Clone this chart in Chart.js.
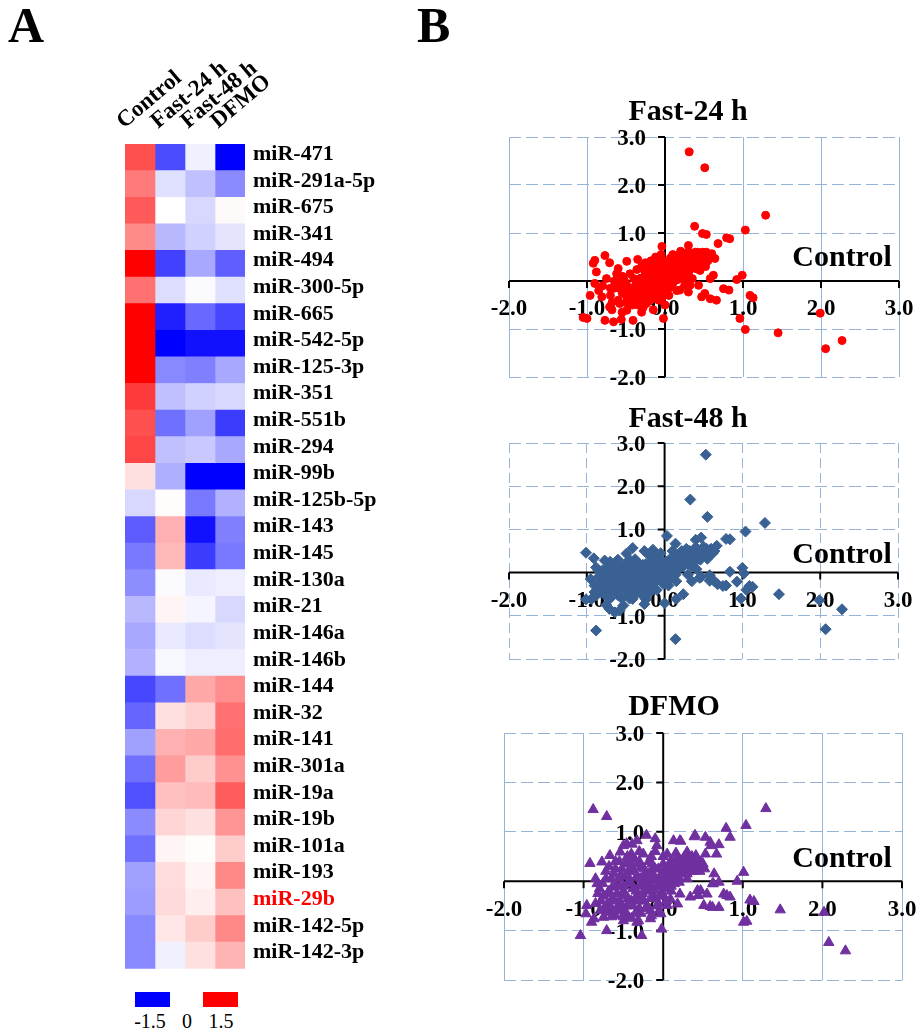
<!DOCTYPE html>
<html>
<head>
<meta charset="utf-8">
<script src="https://cdn.jsdelivr.net/npm/chart.js@4.4.0/dist/chart.umd.min.js"></script>
<style>
  html,body{margin:0;padding:0;background:#fff;}
  body{width:917px;height:1029px;position:relative;overflow:hidden;font-family:"Liberation Serif","Times New Roman",serif;}
  canvas{position:absolute;}
  .panel{position:absolute;font-weight:bold;font-size:50px;line-height:1;color:#000;}
  .cb{position:absolute;height:15px;width:35px;}
  .cbl{position:absolute;font-size:20px;line-height:1;transform:translateX(-50%);color:#000;}
</style>
</head>
<body>
<canvas id="heat" width="330" height="990" style="left:100px;top:0px"></canvas>
<canvas id="s1" width="437" height="300" style="left:480px;top:90px"></canvas>
<canvas id="s2" width="437" height="270" style="left:480px;top:400px"></canvas>
<canvas id="s3" width="437" height="310" style="left:480px;top:690px"></canvas>
<div class="panel" style="left:8px;top:0px">A</div>
<div class="panel" style="left:417px;top:0px">B</div>
<div class="cb" style="left:135px;top:992px;background:#0000ff"></div>
<div class="cb" style="left:203px;top:992px;background:#ff0000"></div>
<div class="cbl" style="left:150px;top:1011px">-1.5</div>
<div class="cbl" style="left:187px;top:1011px">0</div>
<div class="cbl" style="left:221px;top:1011px">1.5</div>
<script>
// ---------- Heatmap data ----------
const conditions = ['Control', 'Fast-24 h', 'Fast-48 h', 'DFMO'];
const mirnas = ['miR-471','miR-291a-5p','miR-675','miR-341','miR-494','miR-300-5p','miR-665','miR-542-5p','miR-125-3p','miR-351','miR-551b','miR-294','miR-99b','miR-125b-5p','miR-143','miR-145','miR-130a','miR-21','miR-146a','miR-146b','miR-144','miR-32','miR-141','miR-301a','miR-19a','miR-19b','miR-101a','miR-193','miR-29b','miR-142-5p','miR-142-3p'];
const highlighted = ['miR-29b'];
const controlVals = [1.03,0.78,0.97,0.69,1.5,0.84,1.5,1.5,1.5,1.16,1.03,1.09,0.18,-0.23,-0.96,-0.79,-0.67,-0.42,-0.51,-0.46,-1.08,-0.9,-0.56,-0.84,-1.03,-0.68,-0.84,-0.56,-0.58,-0.7,-0.7];
const fast24Vals  = [-1.05,-0.18,0.0,-0.42,-1.12,-0.2,-1.32,-1.5,-0.7,-0.37,-0.84,-0.37,-0.47,0.02,0.46,0.42,-0.03,0.06,-0.13,-0.04,-0.84,0.18,0.46,0.58,0.37,0.25,0.06,0.2,0.22,0.14,-0.09];
const fast48Vals  = [-0.09,-0.37,-0.23,-0.27,-0.51,-0.03,-0.88,-1.4,-0.75,-0.27,-0.56,-0.32,-1.5,-0.79,-1.4,-1.15,-0.13,-0.06,-0.2,-0.1,0.51,0.27,0.51,0.3,0.4,0.18,0.02,0.06,0.1,0.3,0.18];
const dfmoVals    = [-1.5,-0.68,0.03,-0.16,-0.94,-0.18,-1.08,-1.4,-0.51,-0.23,-1.15,-0.51,-1.5,-0.46,-0.75,-0.79,-0.1,-0.23,-0.16,-0.1,0.67,0.84,0.86,0.65,0.96,0.63,0.3,0.7,0.37,0.7,0.44];
const colorRange = [-1.5, 1.5];

// ---------- Scatter data ([Control, condition] pairs) ----------
const axisTickValues = [-2, -1, 0, 1, 2, 3];
const fast24Points = [
 [0.31,2.69],[0.51,2.36],[1.29,1.37],[1.03,1.06],[0.38,1.14],[0.48,0.99],[0.53,0.97],[0.79,0.9],[0.83,0.88],[0.68,0.78],[-0.04,0.72],[0.3,0.74],[0.53,0.6],[0.6,0.57],[0.64,0.47],
 [-0.77,0.53],[-0.9,0.43],[-0.92,0.37],[-0.71,0.38],[-0.49,0.41],[-0.88,0.19],[-0.6,0.26],[-0.36,0.24],
 [-0.96,-0.3],[-1.05,-0.76],[-1.0,-0.78],[-0.77,-0.82],[-0.66,-0.85],[-0.56,-0.8],[-0.41,-0.82],[-0.02,-0.78],[-0.3,-0.65],[-0.71,-0.54],[-0.81,-0.33],[-0.58,-0.47],[-0.49,-0.61],[-0.24,-0.47],[-0.11,-0.33],
 [0.06,-0.13],[0.28,0.01],[0.32,-0.09],[0.43,-0.09],[0.19,-0.19],[0.3,-0.23],[0.51,-0.26],[0.58,-0.37],[0.47,-0.33],[0.66,-0.4],[0.75,-0.16],[0.82,-0.19],[0.92,0.03],[0.99,0.12],[1.09,-0.3],[1.13,-0.35],[0.96,-0.78],[1.03,-1.01],[1.45,-1.08],[1.99,-0.67],[2.27,-1.24],[2.06,-1.41],[0.62,0.12],[0.58,0.05],[0.45,0.22],
 [-0.5,-0.3],[-0.45,-0.2],[-0.4,-0.35],[-0.38,-0.1],[-0.35,-0.25],[-0.32,0.05],[-0.3,-0.15],[-0.28,-0.35],[-0.25,0.1],[-0.25,-0.05],[-0.22,-0.2],[-0.2,0.2],[-0.2,0.0],[-0.18,-0.12],[-0.16,0.08],[-0.15,-0.28],[-0.14,0.3],[-0.12,-0.05],[-0.1,0.15],[-0.1,-0.18],[-0.08,0.05],[-0.07,0.35],[-0.06,-0.1],[-0.05,0.22],[-0.04,-0.25],[-0.02,0.1],[0.0,0.0],[0.0,0.3],[0.02,-0.08],[0.03,0.18],[0.05,0.42],[0.06,0.05],[0.08,0.25],[0.1,-0.05],[0.1,0.12],[0.12,0.35],[0.14,0.2],[0.15,0.02],[0.17,0.45],[0.18,0.28],[0.2,0.12],[0.22,0.38],[0.24,0.22],[0.26,0.5],[0.28,0.3],[0.3,0.15],[0.32,0.42],[0.34,0.58],[0.36,0.3],[0.38,0.48],[0.4,0.35],[0.42,0.6],[0.44,0.45],[0.47,0.38],[0.5,0.52],[0.52,0.3],[0.55,0.42],
 [-0.6,-0.4],[-0.65,-0.15],[-0.7,-0.3],[-0.75,0.05],[-0.8,-0.1],[-0.55,0.1],[-0.5,-0.05],[-0.45,0.15],[-0.42,-0.5],[-0.35,-0.5],[-0.3,0.3],[-0.28,-0.55],[-0.2,-0.42],[-0.18,0.42],[-0.12,0.5],[-0.08,-0.4],[-0.05,0.55],[0.05,-0.3],[0.1,0.55],[0.0,-0.5],[-0.62,0.15],[-0.85,-0.2],[-0.9,-0.05],[-0.68,-0.6],[-0.55,-0.65],[-0.15,-0.6],[-0.35,0.45],[0.15,-0.2],[0.25,-0.1],[0.2,0.62],[0.35,0.05],[-0.25,0.38],[-0.4,0.05],[-0.6,-0.05],
 [-0.15,0.0],[-0.05,0.02],[0.05,0.12],[-0.1,-0.05],[0.0,0.1],[-0.2,-0.08],[0.12,0.08],[-0.08,0.12],[0.08,-0.02],[-0.03,-0.15],
 [-0.45,-0.45],[-0.4,-0.25],[-0.38,-0.42],[-0.36,-0.05],[-0.34,-0.3],[-0.32,-0.18],[-0.3,-0.42],[-0.28,0.0],[-0.27,-0.28],[-0.26,0.2],[-0.24,-0.12],[-0.23,-0.36],[-0.22,0.08],[-0.2,-0.25],[-0.19,0.3],[-0.18,-0.02],[-0.17,-0.38],[-0.16,0.18],[-0.15,-0.15],[-0.14,0.4],[-0.13,0.05],[-0.12,-0.28],[-0.11,0.25],[-0.1,-0.1],[-0.09,0.45],[-0.08,-0.22],[-0.07,0.18],[-0.06,0.0],[-0.05,0.32],[-0.04,-0.35],[-0.03,0.12],[-0.02,0.42],[-0.01,-0.12],[0.0,0.22],[0.01,0.05],[0.02,0.35],[0.03,-0.2],[0.04,0.15],[0.05,0.28],[0.06,-0.02],[0.07,0.48],[0.08,0.1],[0.09,0.35],[0.1,0.2],[0.11,0.42],[0.12,0.05],[0.13,0.28],[0.14,0.52],[0.15,0.12],[0.16,0.36],[0.18,0.2],[0.19,0.5],[0.2,0.3],[0.21,0.05],[0.22,0.45],[0.24,0.32],[0.25,0.58],[0.26,0.16],[0.28,0.45],[0.3,0.35],[0.31,0.58],[0.33,0.25],[0.35,0.45],[0.37,0.38],[0.39,0.6],[0.41,0.25],[0.43,0.52],[0.46,0.45],[0.48,0.6],[0.5,0.4],[-0.5,-0.45],[-0.48,-0.12],[-0.43,-0.3],[-0.55,-0.25],[-0.52,0.0],[-0.58,-0.15],[-0.65,0.0],[-0.7,-0.15],[-0.68,-0.45]
];
const fast48Points = [
 [0.53,2.73],[0.33,1.69],[0.55,1.29],[1.29,1.15],[1.04,0.95],[0.79,0.78],[0.84,0.77],[0.67,0.62],[0.47,0.81],[0.03,0.85],[0.14,0.67],[0.4,0.76],
 [-1.01,0.46],[-0.91,0.33],[-0.77,0.28],[-0.49,0.44],[-0.41,0.57],[-0.26,0.5],[-0.15,0.53],[-0.11,0.38],[-0.38,0.31],[-0.49,0.23],
 [1.0,0.11],[1.02,-0.02],[0.84,0.02],[0.93,-0.21],[1.09,-0.31],[1.13,-0.33],[1.05,-0.4],[0.64,-0.2],[0.68,-0.27],[0.75,-0.31],[0.79,-0.3],[0.58,-0.06],[0.47,-0.1],[0.41,0.08],[0.58,-0.19],[0.45,-0.12],
 [0.98,-0.6],[1.47,-0.5],[1.99,-0.64],[2.28,-0.85],[2.07,-1.31],[0.14,-1.54],[-0.88,-1.34],
 [0.24,-0.5],[0.15,-0.61],[-0.88,-0.53],[-0.94,-0.61],[-0.75,-0.75],[-0.71,-0.84],[-0.64,-0.92],[-0.53,-0.76],[-0.41,-0.61],[-0.26,-0.73],[-0.32,-0.34],[-0.19,-0.46],[-1.01,-0.62],[0.0,-0.71],[-0.24,-0.62],[-0.58,-0.88],
 [-0.85,-0.1],[-0.8,0.05],[-0.78,-0.25],[-0.75,-0.05],[-0.72,0.15],[-0.7,-0.35],[-0.68,-0.15],[-0.65,0.02],[-0.62,-0.45],[-0.6,-0.25],[-0.58,0.12],[-0.55,-0.08],[-0.52,-0.35],[-0.5,0.05],[-0.48,-0.2],[-0.45,-0.5],[-0.45,0.15],[-0.42,-0.05],[-0.4,-0.3],[-0.38,0.08],[-0.35,-0.15],[-0.33,-0.42],[-0.3,0.0],[-0.28,0.18],[-0.27,-0.25],[-0.25,-0.08],[-0.22,0.1],[-0.2,-0.35],[-0.18,-0.15],[-0.16,0.25],[-0.14,0.02],[-0.12,-0.22],[-0.1,0.12],[-0.08,-0.08],[-0.05,0.3],[-0.04,0.05],[-0.02,-0.15],[0.0,0.18],[0.02,-0.05],[0.04,0.08],[0.06,0.3],[0.08,-0.12],[0.1,0.15],[0.12,0.02],[0.14,0.35],[0.16,0.22],[0.18,0.08],[0.2,0.4],[0.22,0.28],[0.24,0.14],[0.26,0.45],[0.28,0.32],[0.3,0.2],[0.32,0.5],[0.34,0.38],[0.36,0.26],[0.38,0.55],[0.4,0.42],[0.42,0.3],[0.45,0.5],[0.48,0.38],[0.5,0.6],[0.52,0.45],[0.55,0.32],[0.58,0.52],[0.62,0.45],
 [-0.9,-0.3],[-0.95,-0.15],[-0.88,0.12],[-0.6,0.3],[-0.35,0.25],[-0.55,-0.6],[-0.4,-0.55],[-0.25,-0.5],[-0.1,-0.4],[0.05,-0.3],[0.15,-0.2],[0.3,-0.05],[0.35,-0.2],[-0.7,-0.6],[-0.82,-0.45],[-0.2,0.4],[-0.05,0.45],[0.1,0.5],[-0.15,-0.05],[-0.3,-0.1],[-0.5,-0.15],[-0.65,-0.3],[-0.45,0.3],[0.0,-0.05],[-0.2,0.02],[-0.1,-0.1],
 [-0.82,-0.2],[-0.8,-0.35],[-0.78,0.0],[-0.76,-0.45],[-0.74,-0.15],[-0.72,-0.28],[-0.7,0.05],[-0.68,-0.4],[-0.66,-0.22],[-0.64,0.12],[-0.62,-0.08],[-0.6,-0.38],[-0.58,-0.18],[-0.56,0.02],[-0.54,-0.28],[-0.52,0.15],[-0.5,-0.42],[-0.48,-0.1],[-0.46,0.05],[-0.44,-0.3],[-0.42,-0.18],[-0.4,0.12],[-0.38,-0.4],[-0.36,-0.05],[-0.34,0.15],[-0.32,-0.22],[-0.3,-0.35],[-0.28,0.05],[-0.26,-0.15],[-0.24,0.2],[-0.22,-0.28],[-0.2,-0.05],[-0.18,0.12],[-0.16,-0.25],[-0.14,0.3],[-0.12,0.08],[-0.1,-0.18],[-0.08,0.2],[-0.06,-0.02],[-0.04,0.15],[-0.02,-0.25],[0.0,0.08],[0.02,0.25],[0.04,-0.1],[0.06,0.15],[0.08,0.02],[0.1,0.3],[0.12,0.18],[0.14,-0.05],[0.16,0.4],[0.18,0.28],[0.2,0.15],[0.22,0.5],[0.24,0.35],[0.26,0.22],[0.28,0.55],[0.3,0.4],[0.32,0.28],[0.34,0.15],[0.36,0.48],[0.4,0.35],[0.42,0.55],[0.44,0.42],[0.46,0.3],[0.5,0.5],[0.54,0.55],[0.56,0.42],[0.6,0.55],[0.64,0.5],[-0.6,0.18],[-0.7,0.25],[-0.85,0.05],[-0.9,-0.45],[-0.75,-0.55],[-0.6,-0.52],[-0.45,-0.6],[-0.3,-0.5],[-0.15,-0.35],[0.0,-0.25],[0.1,-0.1]
];
const dfmoPoints = [
 [-0.88,1.45],[-0.71,1.31],[1.29,1.47],[1.04,1.13],[0.79,1.07],[0.84,0.89],[0.7,0.74],[0.59,0.79],[0.53,0.89],[0.4,0.93],[0.21,0.82],[0.13,0.82],[-0.1,0.86],[-0.21,0.93],[0.67,0.55],[-0.92,0.36],[-0.77,0.39],[-0.67,0.52],[-0.46,0.76],[-0.5,0.72],[-0.85,0.05],[1.01,0.18],[0.93,0.0],[1.09,-0.38],[1.14,-0.41],[0.8,-0.29],[0.84,-0.32],[0.76,-0.26],[0.7,-0.53],[0.59,-0.51],[0.51,-0.49],[0.47,-0.19],[0.44,-0.29],[0.34,-0.32],[0.21,-0.26],[0.63,-0.05],[1.47,-0.58],[2.02,-0.63],[1.01,-0.83],[1.05,-0.81],[2.08,-1.24],[2.29,-1.41],[-1.04,-1.1],[-0.9,-0.83],[-0.97,-0.66],[-0.71,-1.0],[-0.27,-1.1],[-0.33,-0.83],[-0.02,-0.97],[-0.5,-0.8],[-0.79,-0.59],
 [-0.54,0.59],[-0.39,0.75],[-0.33,0.82],[-0.08,0.72],[0.22,0.81],[0.39,0.9],[0.6,0.72],[0.16,0.57],[0.3,0.59],[0.41,0.52],[0.53,0.55],[0.64,0.15],[0.62,-0.05],[0.7,-0.02],[-0.83,-0.05],[0.43,-0.19],[0.55,-0.26],[0.62,-0.53],[-0.96,-0.49],[-0.87,-0.76],[-0.75,-0.73],[-0.66,-0.63],[-0.54,-0.53],[-0.49,-0.66],[-0.31,-0.8],[-0.03,-0.66],[-0.16,-0.76],[0.09,-0.36],[0.05,-0.49],[0.18,-0.46],
 [-0.7,-0.45],[-0.68,-0.2],[-0.65,0.05],[-0.62,-0.35],[-0.6,0.25],[-0.58,-0.55],[-0.55,-0.1],[-0.53,0.12],[-0.5,-0.3],[-0.48,0.35],[-0.46,-0.5],[-0.44,-0.02],[-0.42,0.2],[-0.4,-0.4],[-0.38,-0.15],[-0.36,0.45],[-0.34,0.08],[-0.32,-0.28],[-0.3,-0.55],[-0.28,0.28],[-0.26,-0.05],[-0.24,-0.4],[-0.22,0.15],[-0.2,-0.2],[-0.18,0.4],[-0.16,-0.6],[-0.14,0.02],[-0.12,-0.3],[-0.1,0.25],[-0.08,-0.12],[-0.06,-0.45],[-0.04,0.1],[-0.02,-0.22],[0.0,0.35],[0.02,0.0],[0.04,-0.15],[0.06,0.2],[0.08,0.05],[0.1,0.42],[0.12,0.15],[0.14,-0.05],[0.16,0.3],[0.18,0.1],[0.2,0.45],[0.22,0.25],[0.25,0.35],[0.28,0.15],[0.3,0.5],[0.33,0.3],[0.36,0.4],[0.38,0.2],[0.42,0.45],[0.45,0.3],[0.48,0.38],[0.52,0.25],
 [-0.75,-0.3],[-0.8,-0.15],[-0.72,0.2],[-0.6,-0.7],[-0.45,-0.7],[-0.35,-0.65],[-0.2,-0.5],[-0.55,0.4],[-0.4,0.55],[-0.25,0.55],[-0.1,0.6],[0.05,0.55],[-0.15,-0.08],[-0.3,-0.1],[-0.05,-0.05],[-0.2,0.05],[-0.35,-0.35],[-0.1,-0.35],[0.0,-0.3],[-0.45,0.1],[-0.6,-0.1],[-0.5,-0.2],[-0.25,0.1],[0.1,-0.1],[0.2,-0.02],[0.3,0.05],[-0.65,-0.55],[-0.4,0.3],[-0.15,0.2],[0.0,0.15],[-0.3,0.4],[-0.55,-0.4],[-0.7,-0.6],
 [-0.78,-0.4],[-0.76,-0.05],[-0.74,-0.55],[-0.72,0.05],[-0.7,-0.25],[-0.68,0.3],[-0.66,-0.4],[-0.64,-0.12],[-0.62,0.15],[-0.6,-0.6],[-0.58,-0.25],[-0.56,0.05],[-0.54,-0.45],[-0.52,0.25],[-0.5,-0.1],[-0.48,-0.6],[-0.46,0.15],[-0.44,-0.35],[-0.42,0.4],[-0.4,-0.05],[-0.38,-0.5],[-0.36,0.2],[-0.34,-0.2],[-0.32,0.35],[-0.3,-0.4],[-0.28,0.05],[-0.26,-0.25],[-0.24,0.25],[-0.22,-0.55],[-0.2,-0.1],[-0.18,0.15],[-0.16,-0.35],[-0.14,0.35],[-0.12,-0.18],[-0.1,0.05],[-0.08,-0.5],[-0.06,0.25],[-0.04,-0.3],[-0.02,0.05],[0.0,-0.1],[0.02,0.25],[0.04,-0.4],[0.06,0.1],[0.08,0.35],[0.1,-0.2],[0.12,0.3],[0.14,0.1],[0.16,0.45],[0.18,0.2],[0.2,0.05],[0.22,0.38],[0.24,0.2],[0.26,0.48],[0.28,0.28],[0.3,0.15],[0.32,0.4],[0.34,0.2],[0.36,0.5],[0.4,0.3],[0.44,0.4],[0.46,0.2],[0.5,0.35],[-0.65,-0.72],[-0.5,-0.72],[-0.4,-0.75],[-0.28,-0.65],[-0.15,-0.7],[-0.82,-0.25],[-0.85,-0.45],[-0.6,0.4],[-0.45,0.5],[-0.3,0.6],[-0.15,0.5],[0.0,0.5],[-0.05,-0.6]
];

const SERIF = '"Liberation Serif", "Times New Roman", serif';
Chart.defaults.font.family = SERIF;

// ---------- Heatmap ----------
function cellColor(v) {
  const t = Math.min(1, Math.abs(v) / colorRange[1]);
  const c = Math.round(255 * (1 - t));
  return v < 0 ? `rgb(${c},${c},255)` : `rgb(255,${c},${c})`;
}
const headerPlugin = {
  id: 'heatHeaders',
  afterDraw(chart) {
    const {ctx, scales: {x}, chartArea} = chart;
    ctx.save();
    ctx.font = 'bold 23px ' + SERIF;
    ctx.fillStyle = '#000';
    ctx.textAlign = 'left';
    ctx.textBaseline = 'alphabetic';
    conditions.forEach((name, i) => {
      const px = x.getPixelForValue(i + 0.5);
      ctx.save();
      ctx.translate(px - (i === 0 ? 16 : 12), chartArea.top - 15);
      ctx.rotate(-40 * Math.PI / 180);
      ctx.fillText(name, 0, 0);
      ctx.restore();
    });
    ctx.restore();
  }
};
const heatSeries = [controlVals, fast24Vals, fast48Vals, dfmoVals];
new Chart(document.getElementById('heat'), {
  type: 'bar',
  data: {
    labels: mirnas,
    datasets: heatSeries.map((vals, i) => ({
      label: conditions[i],
      data: vals.map(() => 1),
      backgroundColor: vals.map(cellColor),
      borderWidth: 0,
      barPercentage: 1,
      categoryPercentage: 1
    }))
  },
  options: {
    indexAxis: 'y',
    responsive: false, animation: false, devicePixelRatio: 1,
    layout: {padding: {left: 25, right: 5, top: 144, bottom: 8}},
    plugins: {legend: {display: false}, tooltip: {enabled: false}},
    scales: {
      x: {stacked: true, display: false, min: 0, max: 4},
      y: {
        stacked: true, position: 'right',
        grid: {display: false, drawTicks: false}, border: {display: false},
        afterFit(scale) { scale.width = 180; },
        ticks: {
          autoSkip: false, padding: 8, labelOffset: -3,
          font: {size: 22, weight: 'bold', family: SERIF},
          color: (c) => highlighted.includes(mirnas[c.index]) ? '#ff0000' : '#000000'
        }
      }
    }
  },
  plugins: [headerPlugin]
});

// ---------- Scatter plots ----------
const crossAxes = {
  id: 'crossAxes',
  beforeDatasetsDraw(chart, args, opts) {
    const {ctx, scales: {x, y}} = chart;
    const x0 = x.getPixelForValue(0), y0 = y.getPixelForValue(0);
    ctx.save();
    ctx.strokeStyle = '#000'; ctx.lineWidth = 2;
    ctx.beginPath();
    ctx.moveTo(x.left, y0); ctx.lineTo(x.right, y0);
    ctx.moveTo(x0, y.top); ctx.lineTo(x0, y.bottom);
    axisTickValues.forEach(v => {
      const px = x.getPixelForValue(v), py = y.getPixelForValue(v);
      ctx.moveTo(px, y0); ctx.lineTo(px, y0 + 7);
      ctx.moveTo(x0 - 7, py); ctx.lineTo(x0, py);
    });
    ctx.stroke();
    ctx.fillStyle = '#000';
    ctx.font = 'bold 23px ' + SERIF;
    ctx.textAlign = 'center'; ctx.textBaseline = 'top';
    axisTickValues.forEach(v => ctx.fillText(v.toFixed(1), x.getPixelForValue(v), y0 + 17));
    ctx.textAlign = 'right'; ctx.textBaseline = 'middle';
    axisTickValues.forEach(v => ctx.fillText(v.toFixed(1), x0 - 19, y.getPixelForValue(v) + 2));
    ctx.restore();
  },
  afterDraw(chart, args, opts) {
    const {ctx} = chart;
    ctx.save();
    ctx.fillStyle = '#000';
    ctx.font = 'bold 30px ' + SERIF;
    ctx.textAlign = 'center'; ctx.textBaseline = 'middle';
    ctx.fillText(opts.title, opts.titleX, opts.titleY);
    ctx.fillText('Control', opts.ctrlX, opts.ctrlY);
    ctx.restore();
  }
};

function scatter(id, title, points, color, style, radius, pad, vDash, pos) {
  new Chart(document.getElementById(id), {
    type: 'scatter',
    data: {datasets: [{
      label: title,
      data: points.map(([x, y]) => ({x, y})),
      pointStyle: style, pointRadius: radius,
      backgroundColor: color, borderColor: color, borderWidth: 1
    }]},
    options: {
      responsive: false, animation: false, devicePixelRatio: 1,
      layout: {padding: pad},
      plugins: {legend: {display: false}, tooltip: {enabled: false}, crossAxes: Object.assign({title}, pos)},
      scales: {
        x: {type: 'linear', min: -2, max: 3,
            ticks: {display: false, stepSize: 1},
            grid: {color: '#95b3d7', lineWidth: 1, drawTicks: false},
            border: {display: false, dash: vDash}},
        y: {type: 'linear', min: -2, max: 3,
            ticks: {display: false, stepSize: 1},
            grid: {color: '#95b3d7', lineWidth: 1, drawTicks: false},
            border: {display: false, dash: [12, 5]}}
      }
    },
    plugins: [crossAxes]
  });
}

scatter('s1', 'Fast-24 h', fast24Points, '#ff0000', 'circle', 4,
  {left: 29, right: 18, top: 47, bottom: 13}, [],
  {titleX: 208, titleY: 22, ctrlX: 362, ctrlY: 168});
scatter('s2', 'Fast-48 h', fast48Points, '#3a6193', 'rectRot', 5.5,
  {left: 29, right: 19, top: 43, bottom: 11}, [10, 5],
  {titleX: 208, titleY: 19, ctrlX: 362, ctrlY: 155});
scatter('s3', 'DFMO', dfmoPoints, '#7030a0', 'triangle', 6,
  {left: 24, right: 15, top: 43, bottom: 20}, [],
  {titleX: 194, titleY: 17, ctrlX: 362, ctrlY: 169});
</script>
</body>
</html>
